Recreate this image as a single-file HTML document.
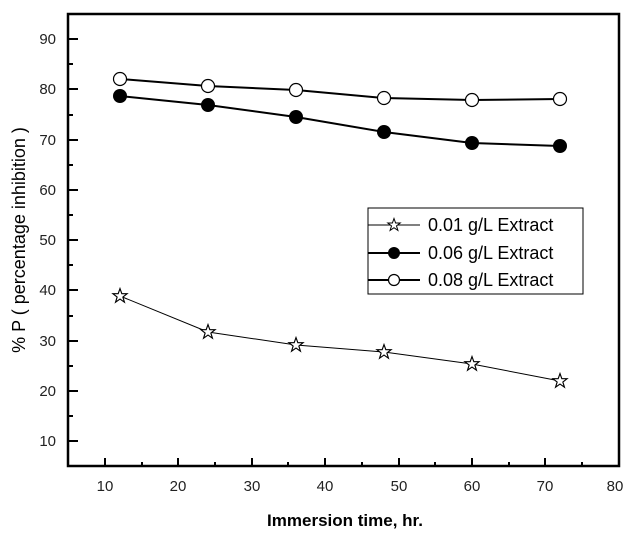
<!DOCTYPE html>
<html><head><meta charset="utf-8"><style>body{margin:0;background:#fff}svg{display:block}</style></head><body>
<svg width="631" height="542" xmlns="http://www.w3.org/2000/svg" font-family="Liberation Sans, Arial, sans-serif">
<defs>
<symbol id="star" viewBox="-7 -7 14 14" overflow="visible"><polygon points="0,-6.5 1.6,-2 6.2,-2 2.5,0.9 3.9,5.4 0,2.7 -3.9,5.4 -2.5,0.9 -6.2,-2 -1.6,-2" fill="#fff" stroke="#000" stroke-width="1"/></symbol>
</defs>
<rect x="68" y="14" width="551" height="452" fill="none" stroke="#000" stroke-width="2.5"/>
<g stroke="#000" stroke-width="2">
<line x1="105" y1="466" x2="105" y2="458"/><line x1="178" y1="466" x2="178" y2="458"/><line x1="252" y1="466" x2="252" y2="458"/><line x1="325" y1="466" x2="325" y2="458"/><line x1="399" y1="466" x2="399" y2="458"/><line x1="472" y1="466" x2="472" y2="458"/><line x1="545" y1="466" x2="545" y2="458"/>
<line x1="142" y1="466" x2="142" y2="462"/><line x1="215" y1="466" x2="215" y2="462"/><line x1="288" y1="466" x2="288" y2="462"/><line x1="362" y1="466" x2="362" y2="462"/><line x1="435" y1="466" x2="435" y2="462"/><line x1="509" y1="466" x2="509" y2="462"/><line x1="582" y1="466" x2="582" y2="462"/>
<line x1="68" y1="39" x2="78" y2="39"/><line x1="68" y1="89" x2="78" y2="89"/><line x1="68" y1="140" x2="78" y2="140"/><line x1="68" y1="190" x2="78" y2="190"/><line x1="68" y1="240" x2="78" y2="240"/><line x1="68" y1="290" x2="78" y2="290"/><line x1="68" y1="341" x2="78" y2="341"/><line x1="68" y1="391" x2="78" y2="391"/><line x1="68" y1="441" x2="78" y2="441"/>
<line x1="68" y1="64" x2="73" y2="64"/><line x1="68" y1="115" x2="73" y2="115"/><line x1="68" y1="165" x2="73" y2="165"/><line x1="68" y1="215" x2="73" y2="215"/><line x1="68" y1="265" x2="73" y2="265"/><line x1="68" y1="316" x2="73" y2="316"/><line x1="68" y1="366" x2="73" y2="366"/><line x1="68" y1="416" x2="73" y2="416"/>
</g>
<g font-size="15" fill="#222" text-anchor="middle">
<text x="105" y="491">10</text><text x="178" y="491">20</text><text x="252" y="491">30</text><text x="325" y="491">40</text><text x="399" y="491">50</text><text x="472" y="491">60</text><text x="545" y="491">70</text><text x="615" y="491">80</text>
</g>
<g font-size="15" fill="#222" text-anchor="end">
<text x="56" y="44">90</text><text x="56" y="94">80</text><text x="56" y="145">70</text><text x="56" y="195">60</text><text x="56" y="245">50</text><text x="56" y="295">40</text><text x="56" y="346">30</text><text x="56" y="396">20</text><text x="56" y="446">10</text>
</g>
<text x="345" y="526" font-size="17" font-weight="bold" text-anchor="middle">Immersion time, hr.</text>
<text transform="translate(25,240) rotate(-90)" font-size="18" text-anchor="middle">% P ( percentage inhibition )</text>
<polyline points="120,79 208,86 296,90 384,98 472,100 560,99" fill="none" stroke="#000" stroke-width="2"/>
<polyline points="120,96 208,105 296,117 384,132 472,143 560,146" fill="none" stroke="#000" stroke-width="2"/>
<polyline points="120,296 208,332 296,345 384,352 472,364 560,381" fill="none" stroke="#000" stroke-width="1"/>
<g fill="#fff" stroke="#000" stroke-width="1.2">
<circle cx="120" cy="79" r="6.5"/><circle cx="208" cy="86" r="6.5"/><circle cx="296" cy="90" r="6.5"/><circle cx="384" cy="98" r="6.5"/><circle cx="472" cy="100" r="6.5"/><circle cx="560" cy="99" r="6.5"/>
</g>
<g fill="#000">
<circle cx="120" cy="96" r="7"/><circle cx="208" cy="105" r="7"/><circle cx="296" cy="117" r="7"/><circle cx="384" cy="132" r="7"/><circle cx="472" cy="143" r="7"/><circle cx="560" cy="146" r="7"/>
</g>
<use href="#star" x="112" y="288" width="16" height="16"/><use href="#star" x="200" y="324" width="16" height="16"/><use href="#star" x="288" y="337" width="16" height="16"/><use href="#star" x="376" y="344" width="16" height="16"/><use href="#star" x="464" y="356" width="16" height="16"/><use href="#star" x="552" y="373" width="16" height="16"/>
<rect x="368" y="208" width="215" height="86" fill="#fff" stroke="#000" stroke-width="1"/>
<line x1="368" y1="225" x2="420" y2="225" stroke="#000" stroke-width="1"/>
<use href="#star" x="387" y="218" width="14" height="14"/>
<line x1="368" y1="253" x2="420" y2="253" stroke="#000" stroke-width="2"/>
<circle cx="394" cy="253" r="6" fill="#000"/>
<line x1="368" y1="280" x2="420" y2="280" stroke="#000" stroke-width="2"/>
<circle cx="394" cy="280" r="5.5" fill="#fff" stroke="#000" stroke-width="1.2"/>
<g font-size="18">
<text x="428" y="231">0.01 g/L Extract</text>
<text x="428" y="259">0.06 g/L Extract</text>
<text x="428" y="286">0.08 g/L Extract</text>
</g>
</svg>
</body></html>
